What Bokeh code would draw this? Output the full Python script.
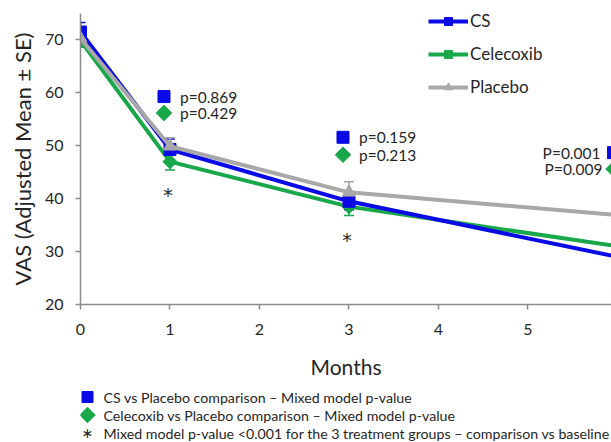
import math
from bokeh.plotting import figure
from bokeh.models import Range1d, Legend, LegendItem, Whisker, ColumnDataSource, TeeHead, FixedTicker
from bokeh.layouts import column
from bokeh.embed import file_html
from bokeh.resources import INLINE
from bokeh.core.properties import value

# ---- data ----
months = [0, 1, 3, 6]
cs = [71.5, 49.3, 39.5, 29.0]
celecoxib = [69.9, 47.0, 38.5, 31.0]
placebo = [70.3, 49.9, 41.2, 36.9]
cs_se = [1.8, 2.0, 1.6, 1.8]
cel_se = [1.3, 1.6, 1.7, 1.8]
pla_se = [1.5, 1.6, 2.0, 1.8]
series_names = ["CS", "Celecoxib", "Placebo"]
x_ticks = [0, 1, 2, 3, 4, 5, 6]
y_ticks = [20, 30, 40, 50, 60, 70]
p_months = [1, 3, 6]
p_cs = ["0.869", "0.159", "0.001"]
p_cel = ["0.429", "0.213", "0.009"]
star_months = [1, 3, 6]
footnotes = [
    "CS vs Placebo comparison \u2013 Mixed model p-value",
    "Celecoxib vs Placebo comparison \u2013 Mixed model p-value",
    "Mixed model p-value <0.001 for the 3 treatment groups \u2013 comparison vs baseline",
]

BLUE = "#0a0ae6"
GREEN = "#18a84a"
GREY = "#a8a8a8"
AXIS = "#8c8c8c"
TXT = "#262626"
FONT = "Lato"

W = 611
LEFT = 80
X_END = 5.933
p = figure(width=W, height=384, x_range=Range1d(0, X_END), y_range=Range1d(20, 75),
           output_backend="svg", toolbar_location=None,
           min_border_left=LEFT, min_border_right=0, min_border_top=13, min_border_bottom=80)
p.outline_line_color = None
p.grid.visible = False
p.background_fill_color = "white"
PX = X_END / (W - LEFT)  # data units per pixel

for ax in (p.xaxis[0], p.yaxis[0]):
    ax.axis_line_color = AXIS
    ax.axis_line_width = 1.5
    ax.major_tick_line_color = AXIS
    ax.major_tick_line_width = 1.5
    ax.major_tick_in = 0
    ax.major_tick_out = 5
    ax.minor_tick_line_color = None
    ax.major_label_text_font = FONT
    ax.major_label_text_font_size = "16px"
    ax.major_label_text_color = TXT
    ax.axis_label_text_font = FONT
    ax.axis_label_text_font_style = "normal"
    ax.axis_label_text_font_size = "21px"
    ax.axis_label_text_color = TXT

p.xaxis.ticker = FixedTicker(ticks=x_ticks)
p.yaxis.ticker = FixedTicker(ticks=y_ticks)
p.xaxis.major_label_standoff = 14
p.xaxis.axis_label = "Months"
p.xaxis.axis_label_standoff = 16
p.yaxis.major_label_standoff = 12
p.yaxis.axis_label = "VAS (Adjusted Mean \u00b1 SE)"
p.yaxis.axis_label_text_font_size = "22px"
p.yaxis.axis_label_standoff = 6

series = [
    (celecoxib, cel_se, GREEN, "square", 10, math.pi / 4),
    (cs, cs_se, BLUE, "square", 12, 0),
    (placebo, pla_se, GREY, "triangle", 13, 0),
]
renderers = {}
for vals, se, col, mk, sz, ang in series:
    src = ColumnDataSource(dict(x=months, y=vals,
                                lo=[v - e for v, e in zip(vals, se)],
                                hi=[v + e for v, e in zip(vals, se)]))
    w = Whisker(base="x", lower="lo", upper="hi", source=src, line_color=col, line_width=1.5,
                upper_head=TeeHead(size=10, line_color=col, line_width=1.5),
                lower_head=TeeHead(size=10, line_color=col, line_width=1.5))
    p.add_layout(w)
    ln = p.line("x", "y", source=src, line_color=col, line_width=4)
    sc = p.scatter("x", "y", source=src, marker=mk, size=sz, angle=ang,
                   fill_color=col, line_color=col)
    renderers[col] = (ln, sc)

legend = Legend(items=[
    LegendItem(label=series_names[0], renderers=list(renderers[BLUE])),
    LegendItem(label=series_names[1], renderers=list(renderers[GREEN])),
    LegendItem(label=series_names[2], renderers=list(renderers[GREY])),
], location=(348, 207), orientation="vertical",
    border_line_alpha=0, background_fill_alpha=0,
    label_text_font=FONT, label_text_font_size="17px", label_text_color=TXT,
    glyph_width=40, glyph_height=20, label_height=20, spacing=12,
    padding=0, margin=0, label_standoff=2)
p.add_layout(legend)

# p-value annotations
ann_y_top = [59.3, 51.6, 48.7]
ann_y_bot = [56.2, 48.3, 45.6]
left_m = p_months[:2]
p.scatter([m - 6 * PX for m in left_m], ann_y_top[:2], marker="square", size=12,
          fill_color=BLUE, line_color=BLUE)
p.scatter([m - 6 * PX for m in left_m], ann_y_bot[:2], marker="square", size=11, angle=math.pi / 4,
          fill_color=GREEN, line_color=GREEN)
p.text(left_m, ann_y_top[:2], text=["p=" + v for v in p_cs[:2]], x_offset=10,
       text_font=value(FONT), text_font_size="15.5px", text_color=TXT, text_baseline="middle")
p.text(left_m, ann_y_bot[:2], text=["p=" + v for v in p_cel[:2]], x_offset=10,
       text_font=value(FONT), text_font_size="15.5px", text_color=TXT, text_baseline="middle")
p.scatter([m - 4 * PX for m in p_months[2:]], ann_y_top[2:], marker="square", size=12,
          fill_color=BLUE, line_color=BLUE)
p.scatter([m - 4 * PX for m in p_months[2:]], ann_y_bot[2:], marker="square", size=11, angle=math.pi / 4,
          fill_color=GREEN, line_color=GREEN)
p.text(p_months[2:], ann_y_top[2:], text=["P=" + v for v in p_cs[2:]], x_offset=-17,
       text_font=value(FONT), text_font_size="15.5px", text_color=TXT, text_baseline="middle", text_align="right")
p.text(p_months[2:], ann_y_bot[2:], text=["P=" + v for v in p_cel[2:]], x_offset=-15,
       text_font=value(FONT), text_font_size="15.5px", text_color=TXT, text_baseline="middle", text_align="right")

# asterisks below the lowest series at each follow-up
star_y = [min(cs[months.index(m)], celecoxib[months.index(m)], placebo[months.index(m)]) for m in star_months]
p.text(star_months, star_y, text=["*"] * len(star_months), y_offset=33, x_offset=-2,
       text_font=value("DejaVu Sans"), text_font_size="19px", text_color=TXT,
       text_baseline="middle", text_align="center")

# ---- footnote legend (frame aligned with the chart frame, x in page pixels) ----
q = figure(width=W, height=58, x_range=Range1d(LEFT, W), y_range=Range1d(58, 0),
           output_backend="svg", toolbar_location=None,
           x_axis_location=None, y_axis_location=None,
           min_border_left=LEFT, min_border_right=0, min_border_top=0, min_border_bottom=0)
q.grid.visible = False
q.outline_line_color = None
rows = [12.5 + 18 * i for i in range(len(footnotes))]
mx = 87
q.scatter([mx], rows[0:1], marker="square", size=11, fill_color=BLUE, line_color=BLUE)
q.scatter([mx], rows[1:2], marker="square", size=11, angle=math.pi / 4, fill_color=GREEN, line_color=GREEN)
q.text([mx], rows[2:3], text=["\u2217"], text_font=value("DejaVu Sans"), text_font_size="14px",
       text_color=TXT, text_align="center", text_baseline="middle")
q.text([mx + 16] * len(footnotes), rows, text=footnotes, text_font=value(FONT),
       text_font_size="14.2px", text_color=TXT, text_baseline="middle")

layout = column(p, q, spacing=0)
open("out.html", "w").write(file_html(layout, INLINE))
